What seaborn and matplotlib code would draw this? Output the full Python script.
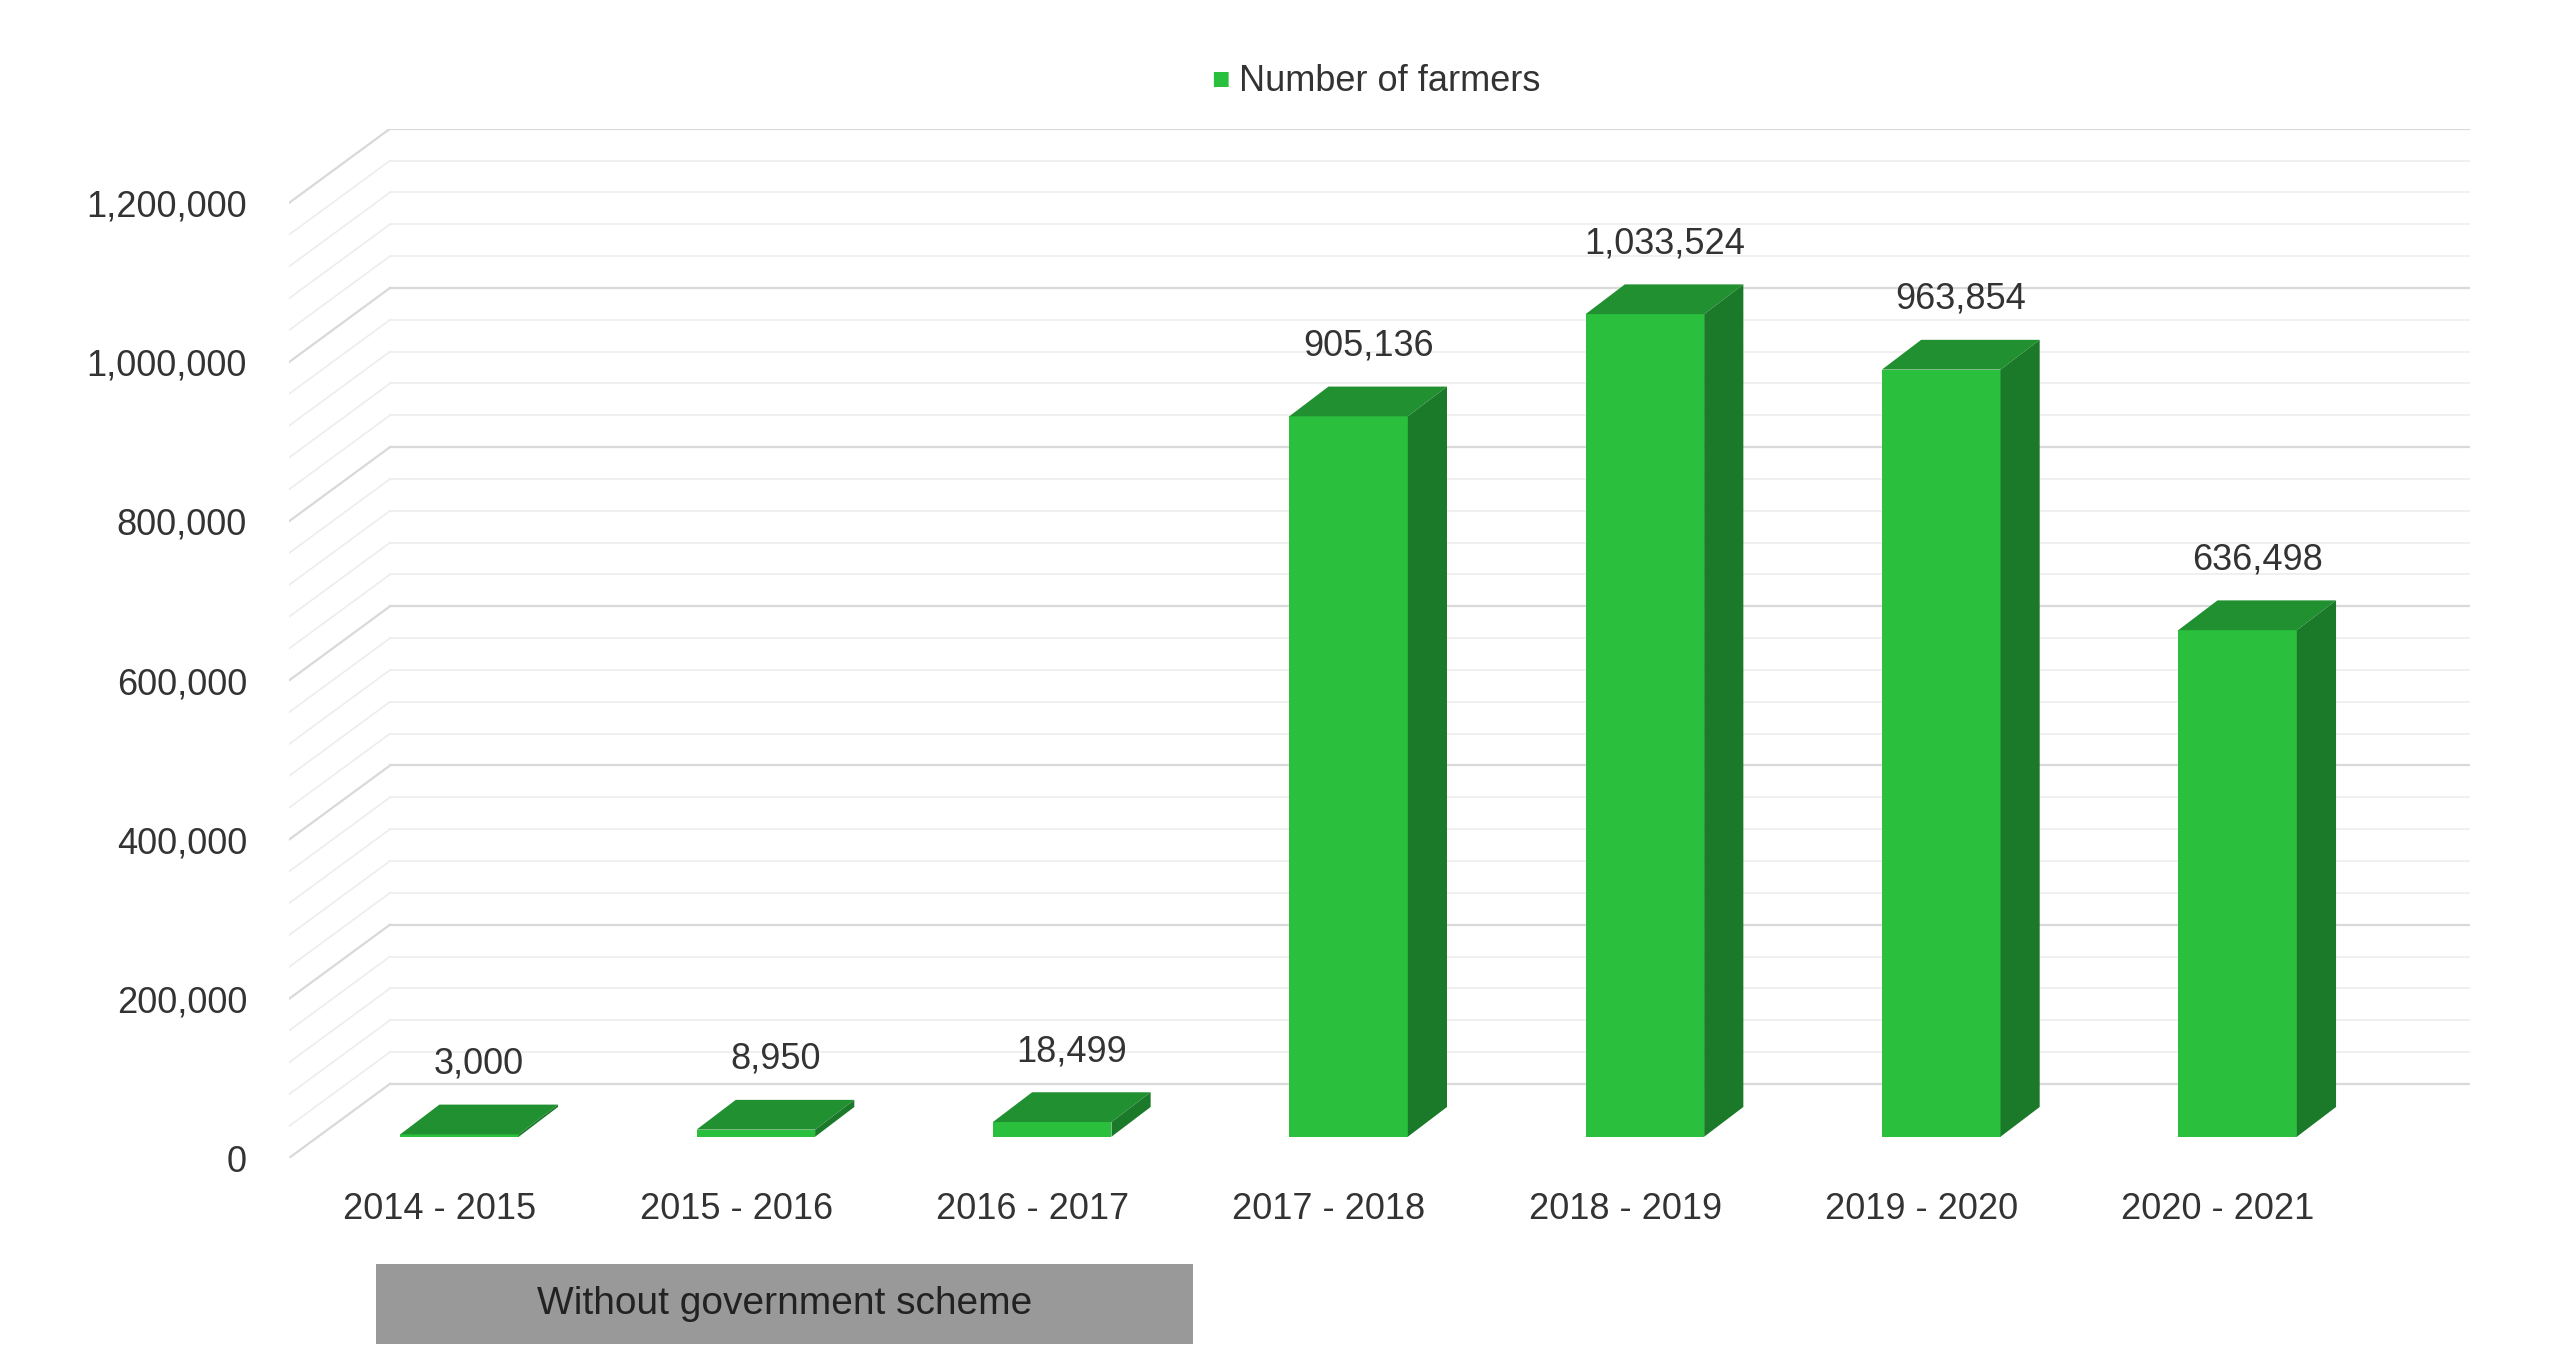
import matplotlib
matplotlib.use("Agg")
import matplotlib.pyplot as plt
import seaborn as sns
import pandas as pd
from matplotlib.patches import Polygon, Rectangle

plt.rcParams["font.family"] = "Liberation Sans"

categories = ["2014 - 2015", "2015 - 2016", "2016 - 2017", "2017 - 2018",
              "2018 - 2019", "2019 - 2020", "2020 - 2021"]
farmers = [3000, 8950, 18499, 905136, 1033524, 963854, 636498]
value_labels = ["3,000", "8,950", "18,499", "905,136", "1,033,524", "963,854", "636,498"]
y_ticks = [0, 200000, 400000, 600000, 800000, 1000000, 1200000]
y_tick_labels = ["0", "200,000", "400,000", "600,000", "800,000", "1,000,000", "1,200,000"]

df = pd.DataFrame({"period": categories, "farmers": farmers})

FRONT = "#2abf3c"
TOP = "#209030"
SIDE = "#1b7a29"

fig = plt.figure(figsize=(25.6, 13.51), dpi=100)
ax = fig.add_axes([0.1128, 0.1427, 0.852, 0.762])

PXX = 1 / 181.5
PXY = 2076.0
BDX, BDY = 62 * PXX, 45 * PXY
SDX, SDY = 20 * PXX, 13 * PXY
DDX, DDY = 24 * PXX, 18 * PXY

xmin, xmax = -0.51, 6.85
ax.set_xlim(xmin, xmax)
ax.set_ylim(0, 1200000 + BDY)

for v in range(0, 1200001, 40000):
    major = v % 200000 == 0
    c = "#d9d9d9" if major else "#ededed"
    lw = 1.6 if major else 1.2
    ax.plot([xmin + BDX, xmax], [v + BDY, v + BDY], color=c, lw=lw, zorder=0)
    ax.plot([xmin, xmin + BDX], [v, v + BDY], color=c, lw=lw, zorder=0)

sns.barplot(data=df, x="period", y="farmers", color=FRONT, width=0.4,
            saturation=1, ax=ax, zorder=3)
ax.set_xlim(xmin, xmax)
ax.set_ylim(0, 1200000 + BDY)

for p, lab in zip(ax.patches, value_labels):
    p.set_x(p.get_x() + SDX * 0.6)
    p.set_y(SDY)
    p.set_edgecolor("none")
    x0, w, h = p.get_x(), p.get_width(), p.get_height()
    y0 = SDY
    yt = y0 + h
    top = Polygon([[x0, yt], [x0 + w, yt], [x0 + w + DDX, yt + DDY], [x0 + DDX, yt + DDY]],
                  closed=True, facecolor=TOP, edgecolor="none", zorder=4)
    side = Polygon([[x0 + w, y0], [x0 + w + DDX, y0 + DDY], [x0 + w + DDX, yt + DDY], [x0 + w, yt]],
                   closed=True, facecolor=SIDE, edgecolor="none", zorder=4)
    ax.add_patch(top)
    ax.add_patch(side)
    ax.text(x0 + w / 2 + DDX / 2, yt + DDY + 14 * PXY, lab, ha="center", va="bottom",
            fontsize=26, color="#333333", zorder=5)

ax.set_yticks(y_ticks)
ax.set_yticklabels(y_tick_labels)
ax.tick_params(axis="both", length=0, labelsize=26, colors="#333333")
ax.tick_params(axis="y", pad=30)
ax.tick_params(axis="x", pad=24)
ax.set_xlabel("")
ax.set_ylabel("")
for s in ax.spines.values():
    s.set_visible(False)

fig.text(0.4765, 0.94, "■", color=FRONT, fontsize=22, ha="center", va="center")
fig.text(0.484, 0.94, "Number of farmers", color="#333333", fontsize=26, ha="left", va="center")

fig.patches.append(Rectangle((228 / 1551, 1 - 816 / 820), (723 - 228) / 1551, 49 / 820,
                             transform=fig.transFigure, facecolor="#999999", edgecolor="none"))
fig.text((228 + 723) / 2 / 1551, 1 - 791.5 / 820, "Without government scheme",
         ha="center", va="center", fontsize=28, color="#222222")

fig.savefig("out.png", dpi=100, facecolor="white")
